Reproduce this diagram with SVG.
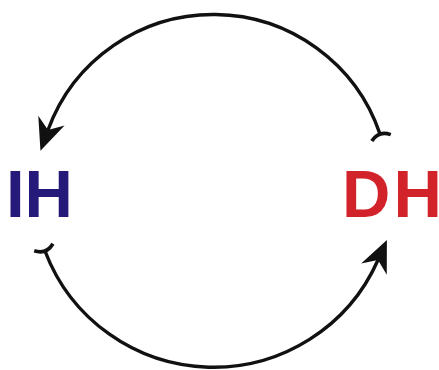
<svg xmlns="http://www.w3.org/2000/svg" width="439" height="370" viewBox="0 0 439 370">
  <style>
    .conn { fill: none; stroke: #111; stroke-width: 3.4; }
    .lbl { font-family: "Liberation Sans", Arial, sans-serif; font-weight: bold; font-size: 67px; }
  </style>
  <defs>
    <marker id="head" markerUnits="userSpaceOnUse" orient="auto" markerWidth="50" markerHeight="50" refX="10" refY="0" viewBox="-5 -25 50 50" overflow="visible">
      <path d="M0,-14 L32,0 L0,14 L10,0 Z" fill="#111"/>
    </marker>
    <marker id="tail" markerUnits="userSpaceOnUse" orient="auto" markerWidth="30" markerHeight="30" refX="0" refY="0" viewBox="-15 -15 30 30" overflow="visible">
      <path d="M-4,-10 Q4,0 -4,10" fill="none" stroke="#111" stroke-width="3.6"/>
    </marker>
  </defs>
  <rect width="439" height="370" fill="#fff"/>
  <g id="connectors">
    <path class="conn" d="M380,134 A176,176 0 0 0 48,130" marker-start="url(#tail)" marker-end="url(#head)"/>
    <path class="conn" d="M45,251 A180,180 0 0 0 378,260" marker-start="url(#tail)" marker-end="url(#head)"/>
  </g>
  <g id="IH">
    <text class="lbl" x="6" y="217" fill="#25197a">IH</text>
  </g>
  <g id="DH">
    <text class="lbl" x="342" y="217" fill="#d2232a">D<tspan dx="3">H</tspan></text>
  </g>
</svg>
